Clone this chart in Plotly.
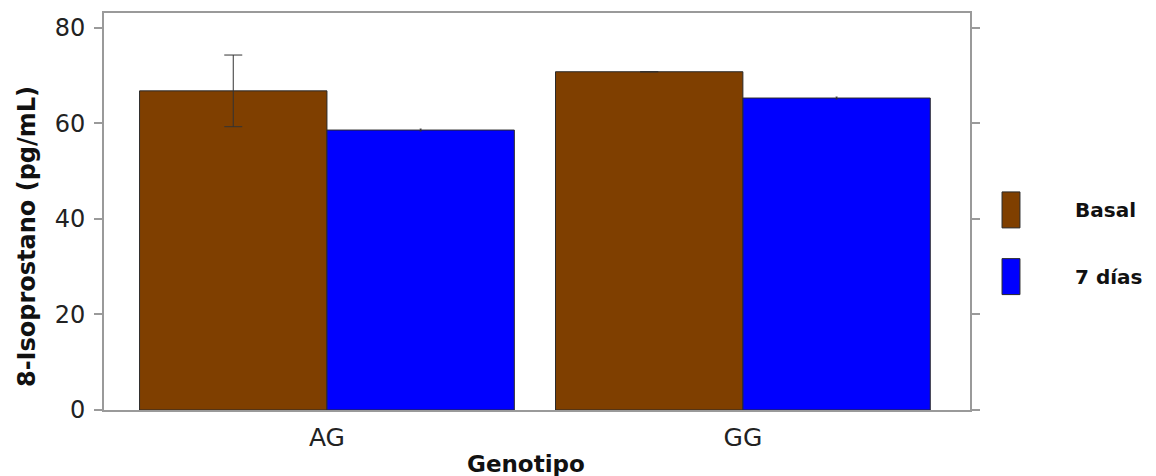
import plotly.graph_objects as go

# Data
genotipos = ["AG", "GG"]
basal = [66.8, 70.8]
basal_err = [7.5, None]
dias7 = [58.6, 65.3]
dias7_err = [0.2, 0.2]

series_names = ["Basal", "7 días"]
colors = ["#7F3F00", "#0000FF"]

font_family = "DejaVu Sans, Arial, sans-serif"

fig = go.Figure()
for name, vals, errs, col, cap in zip(series_names, [basal, dias7], [basal_err, dias7_err], colors, [9, 1]):
    fig.add_trace(go.Bar(
        x=genotipos, y=vals, name=name,
        marker=dict(color=col, line=dict(color="#2a2a2a", width=1)),
        error_y=dict(type="data", array=errs, visible=True,
                     color="#333333", thickness=1, width=cap),
        showlegend=False,
    ))

# Legend drawn as tall colour patches with bold labels
legend_y = [0.504, 0.336]
for name, col, yc in zip(series_names, colors, legend_y):
    fig.add_shape(type="rect", xref="paper", yref="paper",
                  x0=1.037, x1=1.0577, y0=yc - 0.0453, y1=yc + 0.0453,
                  fillcolor=col, line=dict(color="#2a2a2a", width=1))
    fig.add_annotation(xref="paper", yref="paper", x=1.119, y=yc,
                       text="<b>" + name + "</b>", showarrow=False,
                       xanchor="left", yanchor="middle",
                       font=dict(family=font_family, size=20, color="#111111"))

# Axis titles
fig.add_annotation(xref="paper", yref="paper", x=-0.089, y=0.438,
                   text="<b>8-Isoprostano (pg/mL)</b>", textangle=-90, showarrow=False,
                   xanchor="center", yanchor="middle",
                   font=dict(family=font_family, size=24, color="#111111"))
fig.add_annotation(xref="paper", yref="paper", x=0.487, y=-0.135,
                   text="<b>Genotipo</b>", showarrow=False,
                   xanchor="center", yanchor="middle",
                   font=dict(family=font_family, size=23, color="#111111"))

fig.update_layout(
    width=1156, height=476,
    margin=dict(l=104, r=186, t=13, b=66),
    paper_bgcolor="white", plot_bgcolor="white",
    barmode="group", bargap=0.099, bargroupgap=0,
    font=dict(family=font_family, color="#222222"),
)
fig.update_xaxes(
    range=[-0.536, 1.546], showgrid=False, zeroline=False, automargin=False,
    showline=True, linecolor="#9a9a9a", linewidth=2, mirror=True,
    ticks="", tickfont=dict(size=25, color="#222222"), ticklabelstandoff=4,
)
fig.update_yaxes(
    range=[0, 83.1], tickvals=[0, 20, 40, 60, 80], showgrid=False, zeroline=False,
    automargin=False,
    showline=True, linecolor="#9a9a9a", linewidth=2, mirror="ticks",
    ticks="outside", ticklen=8, tickwidth=2, tickcolor="#9a9a9a",
    tickfont=dict(size=24, color="#222222"), ticklabelstandoff=4,
)

fig.write_html("out.html")
